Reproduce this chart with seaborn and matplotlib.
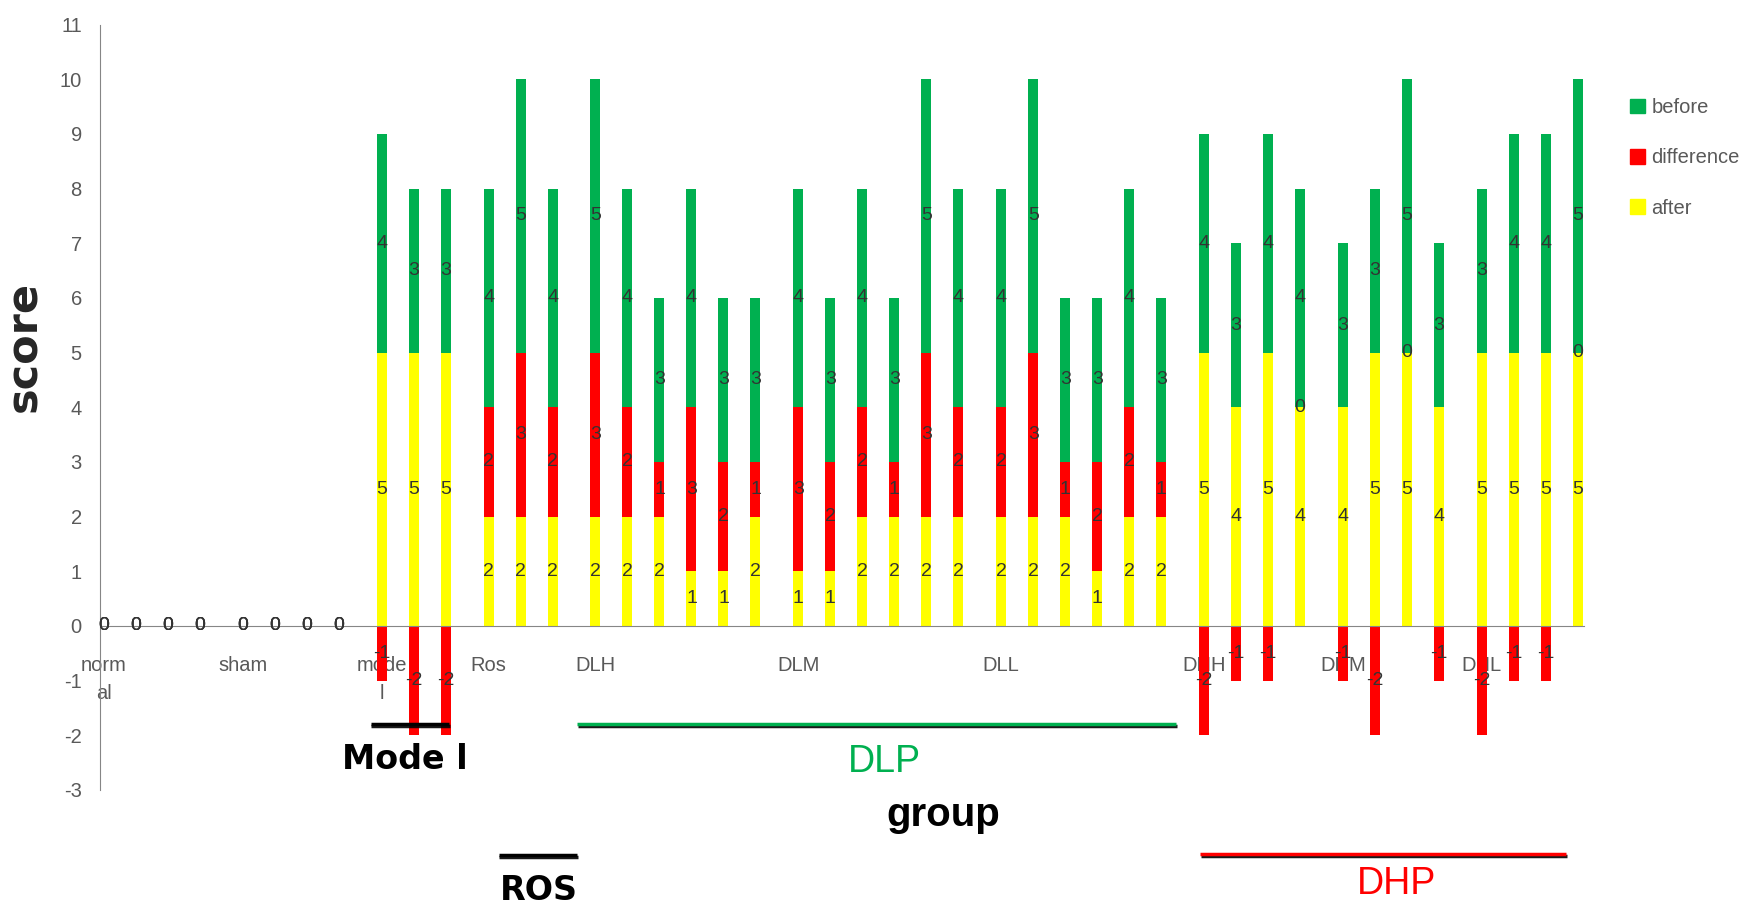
import numpy as np
import pandas as pd
import matplotlib
matplotlib.use('Agg')
import matplotlib.pyplot as plt
import matplotlib.patheffects as pe
from matplotlib.patches import Patch
from matplotlib import font_manager
import seaborn as sns

# dados
groups = ['normal', 'sham', 'model', 'Ros', 'DLH', 'DLM', 'DLL', 'DHH', 'DHM', 'DHL']
group_ticks = ['norm\nal', 'sham', 'mode\nl', 'Ros', 'DLH', 'DLM', 'DLL', 'DHH', 'DHM', 'DHL']
group_sizes = [4, 4, 3, 3, 6, 6, 6, 4, 4, 4]

after = [0, 0, 0, 0, 0, 0, 0, 0,
         5, 5, 5,
         2, 2, 2,
         2, 2, 2, 1, 1, 2,
         1, 1, 2, 2, 2, 2,
         2, 2, 2, 1, 2, 2,
         5, 4, 5, 4,
         4, 5, 5, 4,
         5, 5, 5, 5]
difference = [0, 0, 0, 0, 0, 0, 0, 0,
              -1, -2, -2,
              2, 3, 2,
              3, 2, 1, 3, 2, 1,
              3, 2, 2, 1, 3, 2,
              2, 3, 1, 2, 2, 1,
              -2, -1, -1, 0,
              -1, -2, 0, -1,
              -2, -1, -1, 0]
before = [0, 0, 0, 0, 0, 0, 0, 0,
          4, 3, 3,
          4, 5, 4,
          5, 4, 3, 4, 3, 3,
          4, 3, 4, 3, 5, 4,
          4, 5, 3, 3, 4, 3,
          4, 3, 4, 4,
          3, 3, 5, 3,
          3, 4, 4, 5]

GREEN = '#00B050'
RED = '#FF0000'
YELLOW = '#FFFF00'
GREY = '#595959'
GAP = 0.34  # espaço extra entre grupos

# fonte estreita se existir
names = {f.name for f in font_manager.fontManager.ttflist}
narrow = 'Liberation Sans Narrow' if 'Liberation Sans Narrow' in names else 'Liberation Sans'

sns.set_style('white')
plt.rcParams['font.family'] = [narrow, 'DejaVu Sans']

# montar o dataframe
group_col = np.repeat(groups, group_sizes)
group_idx = np.repeat(np.arange(len(groups)), group_sizes)
df = pd.DataFrame({'group': group_col, 'after': after,
                   'difference': difference, 'before': before})
df['pos'] = np.round(np.arange(len(df)) + GAP * group_idx, 2)
pos_diff = df['difference'].clip(lower=0)
df['top'] = df['after'] + pos_diff + df['before']
df['mid'] = df['after'] + pos_diff
df['neg'] = df['difference'].clip(upper=0)

fig = plt.figure(figsize=(17.5, 9.08), dpi=100)
ax = fig.add_axes([0.0571, 0.130, 0.848, 0.843])

bar_kw = dict(x='pos', native_scale=True, width=0.31, errorbar=None,
              saturation=1, linewidth=0, ax=ax)
sns.barplot(data=df, y='top', color=GREEN, **bar_kw)
sns.barplot(data=df, y='mid', color=RED, **bar_kw)
sns.barplot(data=df, y='after', color=YELLOW, **bar_kw)
sns.barplot(data=df, y='neg', color=RED, **bar_kw)

# rótulos dos segmentos
lab_kw = dict(ha='center', va='center', fontsize=14, color='#333333')
for _, r in df.iterrows():
    d_pos = max(r['difference'], 0)
    ax.text(r['pos'], r['after'] / 2, f"{r['after']}", **lab_kw)
    if r['difference'] >= 0:
        ax.text(r['pos'], r['after'] + d_pos / 2, f"{r['difference']}", **lab_kw)
    else:
        ax.text(r['pos'], r['difference'] / 2, f"{r['difference']}", **lab_kw)
    ax.text(r['pos'], r['after'] + d_pos + r['before'] / 2, f"{r['before']}", **lab_kw)

# eixos no estilo do Excel
first_pos = df.groupby('group', sort=False)['pos'].first()
last_pos = df.groupby('group', sort=False)['pos'].last()
ax.set_xticks(first_pos.values)
ax.set_xticklabels(group_ticks)
ax.set_yticks(range(-3, 12))
ax.set_yticklabels([str(v) for v in range(-3, 12)])
ax.set_ylim(-3, 11)
ax.set_xlim(-0.125, df['pos'].max() + 0.19)
ax.tick_params(axis='both', length=0, labelsize=14.5, labelcolor=GREY)
ax.tick_params(axis='x', pad=22)
ax.tick_params(axis='y', pad=13)
for s in ['top', 'right']:
    ax.spines[s].set_visible(False)
ax.spines['left'].set_color('#868686')
ax.spines['bottom'].set_color('#868686')
ax.spines['bottom'].set_position(('data', 0))

ax.set_ylabel('score', fontsize=31, fontweight='bold', family='DejaVu Sans')
ax.yaxis.set_label_coords(-0.037, 0.58)
ax.set_xlabel('group', fontsize=29, fontweight='bold', color='black')
ax.xaxis.set_label_coords(0.568, -0.008)

# legenda
handles = [Patch(color=GREEN), Patch(color=RED), Patch(color=YELLOW)]
fig.legend(handles, ['before', 'difference', 'after'], loc='upper left',
           bbox_to_anchor=(1612 / 1750, 1 - 80 / 908), frameon=False, fontsize=14.5,
           handlelength=0.75, handleheight=0.75, handletextpad=0.3,
           labelspacing=1.55, labelcolor=GREY)

# linhas e nomes dos conjuntos de grupos
shadow = [pe.SimpleLineShadow(offset=(0.5, -1.5), shadow_color='black', alpha=0.9), pe.Normal()]


def bracket(x0, x1, y, line_color, text, tx, ty, **tkw):
    ax.plot([x0, x1], [y, y], color=line_color, lw=2.5, clip_on=False,
            solid_capstyle='butt', path_effects=shadow)
    ax.text(tx, ty, text, ha='center', va='center', clip_on=False, **tkw)


bold_kw = dict(family='DejaVu Sans', fontweight='bold', fontsize=24, color='black')
bracket(first_pos['model'] - 0.34, last_pos['model'] + 0.1, -1.79, 'black',
        'Mode l', 9.41, -2.45, **bold_kw)
bracket(first_pos['Ros'] + 0.32, last_pos['Ros'] + 0.76, -4.19, 'black',
        'ROS', 13.6, -4.83, **bold_kw)
bracket(first_pos['DLH'] - 0.58, last_pos['DLL'] + 0.46, -1.79, GREEN,
        'DLP', 24.4, -2.49, fontsize=27, color=GREEN)
bracket(first_pos['DHH'] - 0.13, last_pos['DHL'] - 0.37, -4.17, RED,
        'DHP', 40.4, -4.72, fontsize=27, color=RED)

# espaçamento das linhas dos rótulos quebrados (norm/al, mode/l)
fig.canvas.draw()
for lbl in ax.get_xticklabels():
    lbl.set_linespacing(1.6)

fig.savefig('out.png', dpi=100)
